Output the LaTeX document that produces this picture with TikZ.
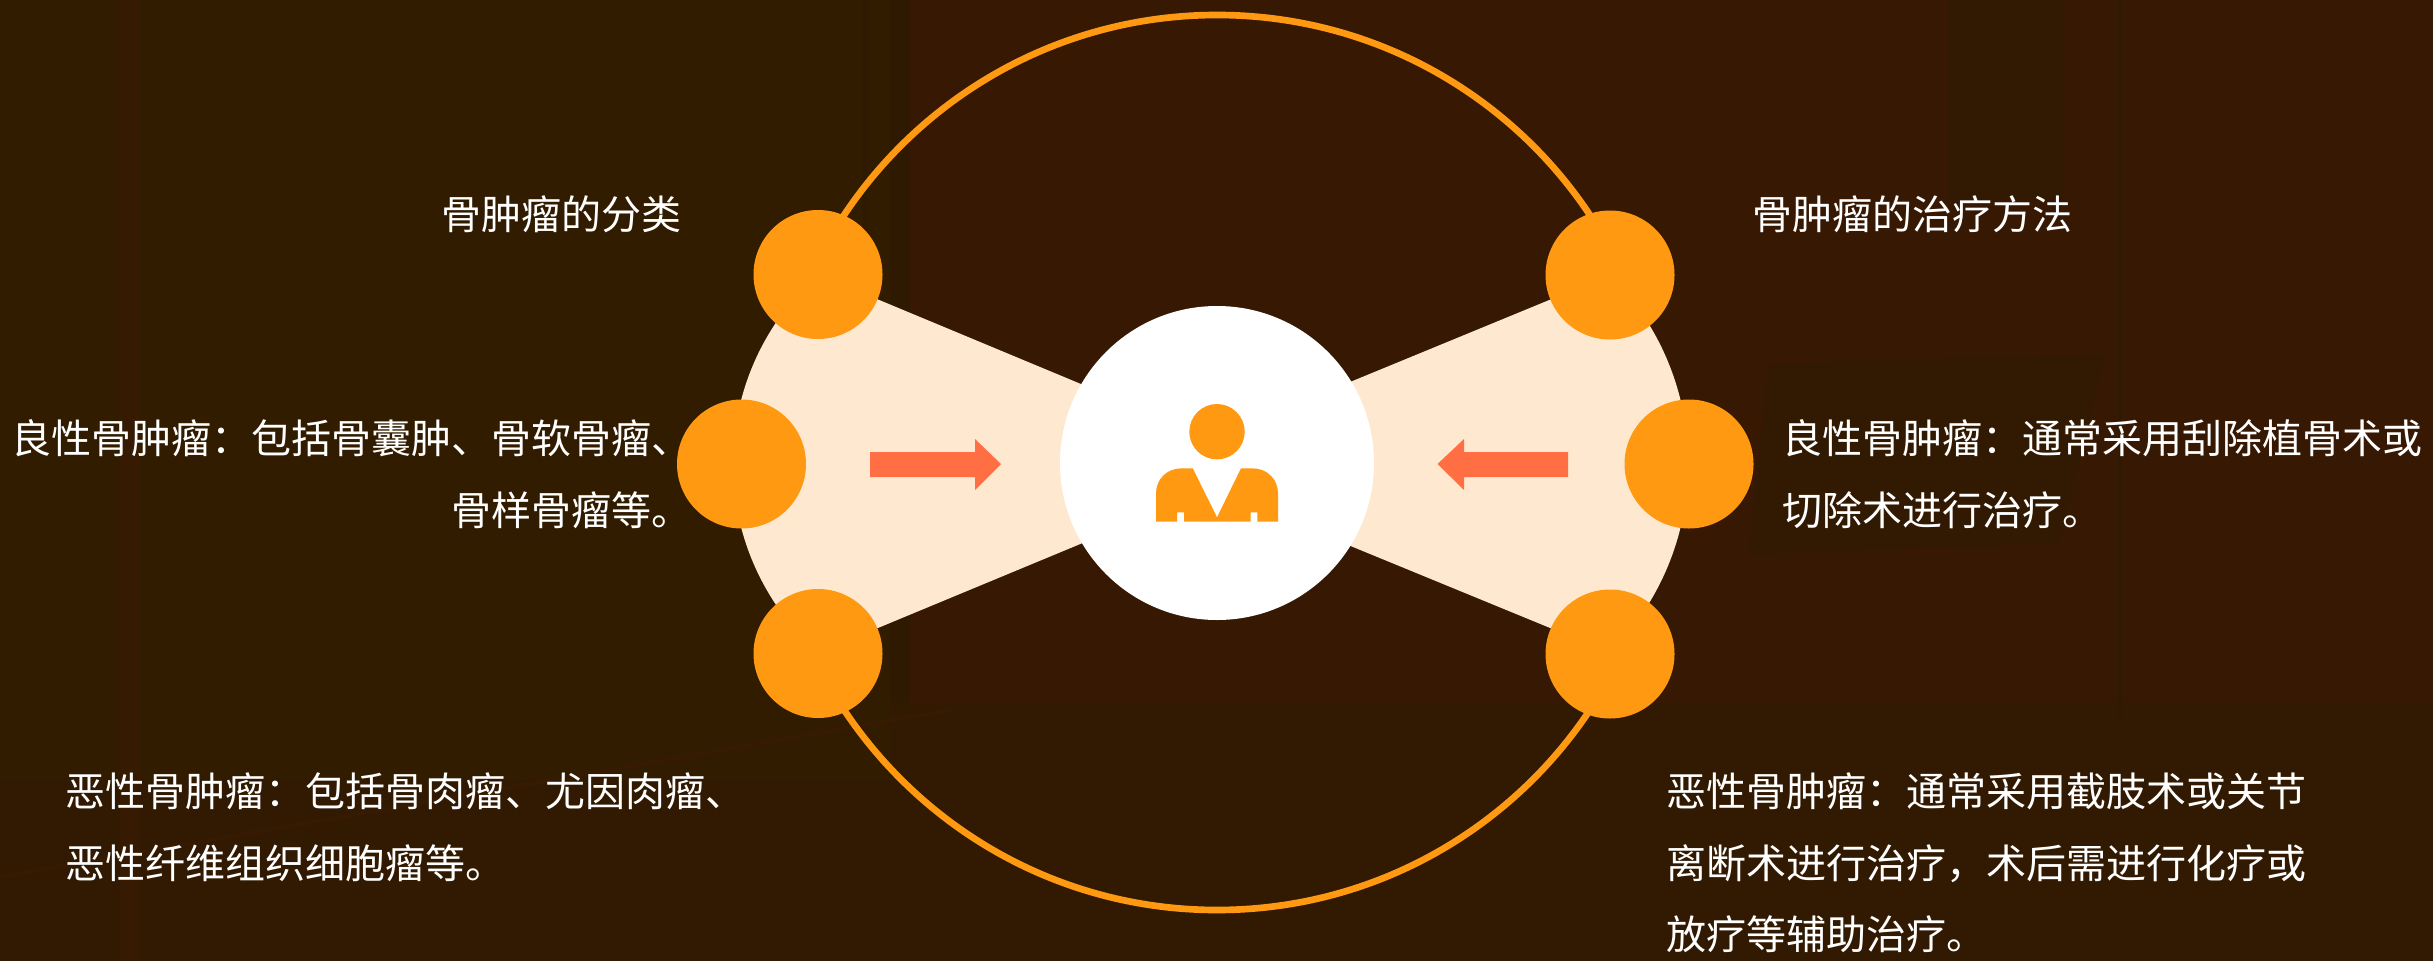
\documentclass[tikz,border=0pt]{standalone}
\usepackage{fontspec}
\newfontfamily\cjk{Noto Sans CJK SC}
\definecolor{orangeDot}{RGB}{255,153,18}
\definecolor{paleFan}{RGB}{255,232,208}
\definecolor{arrowRed}{RGB}{255,111,67}
\definecolor{bgBase}{RGB}{55,24,3}
\definecolor{bgOlive}{RGB}{50,28,0}
\definecolor{bgDark}{RGB}{47,25,0}
\definecolor{bgLow}{RGB}{50,26,2}
\definecolor{bgRed}{RGB}{54,26,2}
\tikzset{
  dot/.style={circle,fill=orangeDot,minimum size=96.75pt,inner sep=0pt,outer sep=0pt},
  textlabel/.style={font=\cjk\fontsize{30}{53.75}\selectfont,text=white,inner sep=0pt},
}
\begin{document}
\begin{tikzpicture}[x=0.75pt,y=0.75pt,yscale=-1,xscale=1]

\useasboundingbox (0,0) rectangle (2433,960);
%Shape: Background
\fill [bgBase] (-5,-5) rectangle (2438,965);
\fill [bgLow] (-5,703) rectangle (2438,965);
\fill [bgOlive] (-5,-5) rectangle (890,780);
\fill [bgRed] (120,-5) rectangle (140,965);
\fill [bgDark] (863,-5) rectangle (868,700);
\fill [bgDark] (890,-5) rectangle (910,703);
\fill [bgLow] (1948,-5) rectangle (2064,200);
\fill [bgDark] (2118,-5) rectangle (2122,720);
%Shape: Chair
\fill [bgLow] (1769,364) -- (2105,354) -- (2059,543) -- (1749,554) -- cycle;
\draw [bgRed,line width=3pt] (0,877) -- (950,710);

%Shape: Ring
\coordinate (ringC) at (1217,462.5);
\draw [color=orangeDot,line width=5pt] (ringC) circle [radius=447.5];

%Shape: Fans
\coordinate (pLT) at (818,274.5);
\coordinate (pRT) at (1610,275);
\fill [paleFan] (pLT) arc [start angle=228.4,end angle=131.6,radius=253] -- (1273,464) -- cycle;
\fill [paleFan] (pRT) arc [start angle=-45,end angle=45,radius=267] -- (1151,464) -- cycle;

%Shape: Small circles
\node [dot] (leftTop) at (pLT) {};
\node [dot] (leftMid) at (741.5,464) {};
\node [dot] (leftBot) at (818,653.5) {};
\node [dot] (rightTop) at (pRT) {};
\node [dot] (rightMid) at (1689,464) {};
\node [dot] (rightBot) at (1610,654) {};

%Shape: Centre
\node [circle,fill=white,minimum size=235.5pt,inner sep=0pt] (centre) at (1217,463) {};

%Shape: Person
\fill [orangeDot] (1217,431.7) circle [radius=27.7];
\fill [orangeDot] (1156,521.7) -- (1156,493.3) .. controls (1156,479) and (1167,468.3) .. (1181.7,468.3) -- (1192.7,468.3) -- (1217,517.3) -- (1241,468.3) -- (1252.3,468.3) .. controls (1267,468.3) and (1278,479) .. (1278,493.3) -- (1278,521.7) -- (1257.3,521.7) -- (1257.3,512.3) -- (1250.7,512.3) -- (1250.7,521.7) -- (1184,521.7) -- (1184,512.3) -- (1177,512.3) -- (1177,521.7) -- cycle;

%Shape: Arrows
\fill [arrowRed] (870,452) -- (975,452) -- (975,439) -- (1001,464) -- (975,490) -- (975,477) -- (870,477) -- cycle;
\fill [arrowRed] (1568,452) -- (1464,452) -- (1464,439) -- (1437.5,464) -- (1464,490) -- (1464,477) -- (1568,477) -- cycle;

% Text Node
\node [textlabel,anchor=west] (classTitle) at (441,214) {骨肿瘤的分类};
% Text Node
\node [textlabel,anchor=east,align=right] (leftBenign) at (692,474) {良性骨肿瘤^^^^ff1a包括骨囊肿、骨软骨瘤、\\骨样骨瘤等。};
% Text Node
\node [textlabel,anchor=west,align=left] (leftMalign) at (65,827) {恶性骨肿瘤^^^^ff1a包括骨肉瘤、尤因肉瘤、\\恶性纤维组织细胞瘤等。};
% Text Node
\node [textlabel,anchor=west] (treatTitle) at (1752,214) {骨肿瘤的治疗方法};
% Text Node
\node [textlabel,anchor=west,align=left] (rightBenign) at (1782,474) {良性骨肿瘤^^^^ff1a通常采用刮除植骨术或\\切除术进行治疗。};
% Text Node
\node [textlabel,anchor=west,align=left] (rightMalign) at (1666,863) {恶性骨肿瘤^^^^ff1a通常采用截肢术或关节\\离断术进行治疗^^^^ff0c术后需进行化疗或\\放疗等辅助治疗。};

\end{tikzpicture}
\end{document}
